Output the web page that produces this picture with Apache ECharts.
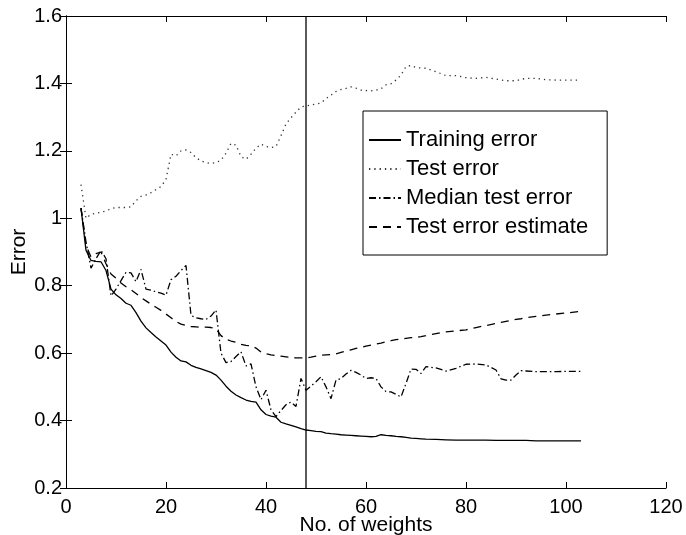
<!DOCTYPE html>
<html>
<head>
<meta charset="utf-8">
<script src="https://cdn.jsdelivr.net/npm/echarts@6/dist/echarts.min.js"></script>
<style>html,body{margin:0;padding:0;background:#fff}#c{width:686px;height:535px}</style>
</head>
<body>
<div id="c"></div>
<script>
var weights = [3,4,5,6,7,8,9,10,11,12,13,14,15,16,17,18,19,20,21,22,23,24,25,26,27,28,29,30,31,32,33,34,35,36,37,38,39,40,41,42,43,44,45,46,47,48,49,50,51,52,53,54,55,56,57,58,59,60,61,62,63,64,65,66,67,68,69,70,71,72,74,76,78,80,82,84,86,87,88,89,90,91,92,94,96,98,100,103];
var trainingError = [1.03,0.905,0.875,0.872,0.871,0.845,0.79,0.773,0.762,0.748,
 0.742,0.72,0.695,0.675,0.661,0.648,0.636,0.624,0.603,0.588,
 0.577,0.574,0.564,0.558,0.553,0.548,0.543,0.535,0.52,0.502,
 0.487,0.476,0.468,0.461,0.457,0.455,0.432,0.418,0.413,0.41,
 0.395,0.39,0.386,0.381,0.376,0.372,0.37,0.368,0.367,0.363,
 0.361,0.36,0.358,0.357,0.356,0.355,0.354,0.353,0.352,0.353,
 0.358,0.356,0.355,0.353,0.352,0.35,0.348,0.347,0.346,0.345,
 0.344,0.343,0.342,0.342,0.342,0.342,0.341,0.341,0.341,0.341,0.341,0.341,0.341,0.34,0.34,0.34,0.34,0.34];
var testError = [1.10,1.0,1.012,1.015,1.018,1.022,1.028,1.032,1.032,1.032,
 1.034,1.052,1.065,1.069,1.076,1.085,1.094,1.115,1.19,1.185,
 1.2,1.203,1.195,1.18,1.17,1.165,1.163,1.165,1.172,1.193,
 1.222,1.217,1.183,1.175,1.19,1.208,1.22,1.213,1.21,1.213,
 1.245,1.28,1.298,1.315,1.33,1.333,1.336,1.339,1.342,1.355,
 1.365,1.376,1.382,1.385,1.39,1.386,1.38,1.379,1.378,1.38,
 1.384,1.396,1.399,1.41,1.425,1.45,1.453,1.447,1.446,1.445,
 1.435,1.423,1.423,1.417,1.415,1.418,1.413,1.41,1.408,1.408,1.408,1.412,1.415,1.415,1.411,1.41,1.41,1.41];
var medianTestError = [1.03,0.93,0.852,0.88,0.905,0.88,0.77,0.79,0.815,0.84,
 0.838,0.812,0.848,0.79,0.787,0.782,0.778,0.772,0.818,0.828,
 0.845,0.86,0.712,0.705,0.702,0.7,0.71,0.728,0.6,0.572,
 0.575,0.59,0.604,0.562,0.568,0.5,0.462,0.49,0.432,0.412,
 0.43,0.447,0.455,0.442,0.525,0.49,0.502,0.515,0.53,0.5,
 0.465,0.52,0.525,0.538,0.549,0.543,0.535,0.525,0.527,0.525,
 0.5,0.486,0.485,0.478,0.47,0.51,0.553,0.552,0.54,0.56,
 0.556,0.547,0.555,0.567,0.568,0.565,0.55,0.524,0.52,0.52,0.535,0.548,0.547,0.545,0.545,0.545,0.546,0.546];
var testErrorEstimate = [1.03,0.92,0.885,0.895,0.9,0.865,0.835,0.822,0.808,0.797,
 0.788,0.777,0.765,0.755,0.745,0.736,0.727,0.716,0.705,0.694,
 0.686,0.682,0.679,0.678,0.677,0.677,0.676,0.672,0.652,0.641,
 0.636,0.632,0.626,0.623,0.622,0.615,0.603,0.598,0.595,0.593,
 0.591,0.589,0.587,0.586,0.586,0.586,0.588,0.591,0.594,0.595,
 0.596,0.598,0.602,0.606,0.61,0.614,0.617,0.621,0.624,0.627,
 0.63,0.634,0.637,0.64,0.642,0.644,0.646,0.647,0.649,0.652,
 0.658,0.663,0.666,0.669,0.676,0.682,0.688,0.691,0.694,0.697,0.7,0.702,0.705,0.709,0.713,0.716,0.719,0.724];
var selectedWeights = 48;
var xTicks = {min: 0, max: 120, interval: 20};
var yTicks = {min: 0.2, max: 1.6, interval: 0.2};
var seriesNames = ['Training error', 'Test error', 'Median test error', 'Test error estimate'];

function pairs(ys) { return weights.map(function (x, i) { return [x, ys[i]]; }); }

var FONT = '"Liberation Sans", Arial, Helvetica, sans-serif';
var chart = echarts.init(document.getElementById('c'), null, {renderer: 'canvas'});
var axisCommon = {
  axisLine: {show: true, lineStyle: {color: '#000', width: 1}},
  axisTick: {show: true, inside: true, length: 6, lineStyle: {color: '#000', width: 1}},
  splitLine: {show: false}
};
chart.setOption({
  animation: false,
  backgroundColor: '#fff',
  textStyle: {fontFamily: FONT},
  grid: {left: 66, right: 20, top: 16, bottom: 47, containLabel: false, outerBoundsMode: 'none'},
  legend: {
    data: seriesNames,
    orient: 'vertical',
    left: 363, top: 111,
    itemWidth: 32, itemHeight: 14, itemGap: 7,
    padding: [18, 19, 17, 5],
    borderColor: '#000', borderWidth: 1, backgroundColor: '#fff',
    itemStyle: {opacity: 0, borderWidth: 0},
    textStyle: {fontFamily: FONT, fontSize: 22, color: '#000', lineHeight: 22},
    selectedMode: false,
    z: 10
  },
  xAxis: [
    Object.assign({
      type: 'value', min: xTicks.min, max: xTicks.max, interval: xTicks.interval,
      name: 'No. of weights', nameLocation: 'middle', nameGap: 27, nameMoveOverlap: false,
      nameTextStyle: {fontFamily: FONT, fontSize: 21, color: '#000'},
      axisLabel: {fontFamily: FONT, fontSize: 20, color: '#000', margin: 9}
    }, axisCommon),
    Object.assign({
      type: 'value', position: 'top', min: xTicks.min, max: xTicks.max, interval: xTicks.interval,
      axisLabel: {show: false}
    }, axisCommon)
  ],
  yAxis: [
    Object.assign({
      type: 'value', min: yTicks.min, max: yTicks.max, interval: yTicks.interval,
      name: 'Error', nameLocation: 'middle', nameGap: 36, nameMoveOverlap: false,
      nameTextStyle: {fontFamily: FONT, fontSize: 21, color: '#000'},
      axisLabel: {fontFamily: FONT, fontSize: 20, color: '#000', margin: 4}
    }, axisCommon),
    Object.assign({
      type: 'value', position: 'right', min: yTicks.min, max: yTicks.max, interval: yTicks.interval,
      axisLabel: {show: false}
    }, axisCommon)
  ],
  series: [
    {name: seriesNames[0], type: 'line', data: pairs(trainingError), symbol: 'none', z: 3,
     lineStyle: {color: '#000', width: 1.3, type: 'solid'}, itemStyle: {color: '#000'}},
    {name: seriesNames[1], type: 'line', data: pairs(testError), symbol: 'none', z: 3,
     lineStyle: {color: '#333', width: 1.3, type: [1.3, 4]}, itemStyle: {color: '#333'}},
    {name: seriesNames[2], type: 'line', data: pairs(medianTestError), symbol: 'none', z: 3,
     lineStyle: {color: '#000', width: 1.3, type: [7, 3, 1.5, 3]}, itemStyle: {color: '#000'}},
    {name: seriesNames[3], type: 'line', data: pairs(testErrorEstimate), symbol: 'none', z: 3,
     lineStyle: {color: '#000', width: 1.3, type: [8, 6]}, itemStyle: {color: '#000'}},
    {name: 'selected', type: 'line', data: [[selectedWeights, yTicks.min], [selectedWeights, yTicks.max]],
     symbol: 'none', z: 2, lineStyle: {color: '#000', width: 1.3}, itemStyle: {color: '#000'}}
  ]
});
</script>
</body>
</html>
